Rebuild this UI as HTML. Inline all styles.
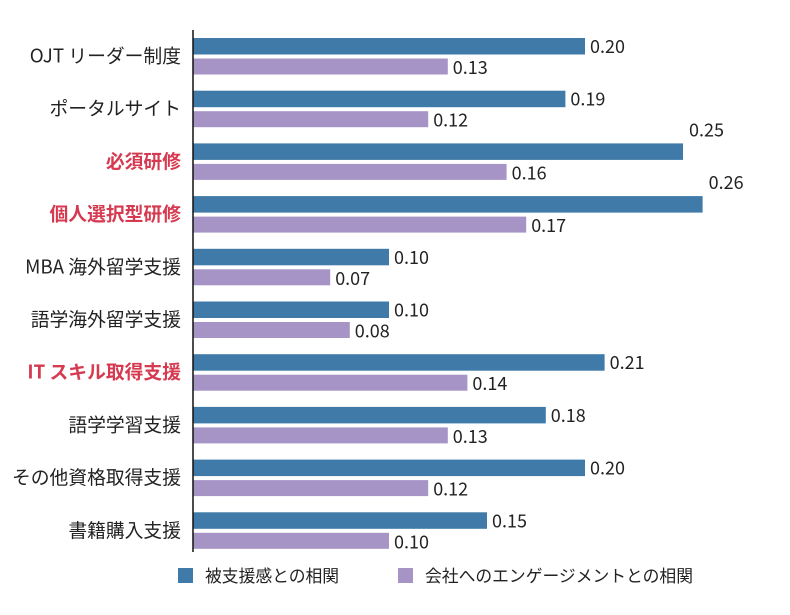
<!DOCTYPE html>
<html><head><meta charset="utf-8"><style>
body{margin:0;width:790px;height:610px;background:#fff;font-family:"Noto Sans CJK JP","Liberation Sans",sans-serif;}
svg text{font-family:"Noto Sans CJK JP","Liberation Sans",sans-serif;}
</style></head><body>
<svg id="chart" width="790" height="610" xmlns="http://www.w3.org/2000/svg"></svg>
<script>
const categories=["OJT リーダー制度","ポータルサイト","必須研修","個人選択型研修","MBA 海外留学支援","語学海外留学支援","IT スキル取得支援","語学学習支援","その他資格取得支援","書籍購入支援"];
const highlighted=[false,false,true,true,false,false,true,false,false,false];
const supportValues=[0.20,0.19,0.25,0.26,0.10,0.10,0.21,0.18,0.20,0.15];
const engagementValues=[0.13,0.12,0.16,0.17,0.07,0.08,0.14,0.13,0.12,0.10];
const seriesNames=["被支援感との相関","会社へのエンゲージメントとの相関"];
const svg=document.getElementById('chart');
const NS="http://www.w3.org/2000/svg";
const x0=193,scale=1960;
const xScale=v=>x0+v*scale;
const rowY=i=>38+i*52.7;
function mk(tag,attrs,txt){const e=document.createElementNS(NS,tag);for(const k in attrs)e.setAttribute(k,attrs[k]);if(txt!==undefined)e.textContent=txt;svg.appendChild(e);return e;}
categories.forEach((c,i)=>{
  const y=rowY(i);
  const t=mk('text',{x:181,y:y+24.5,'text-anchor':'end','font-size':18.8,fill:highlighted[i]?'#d63a50':'#222','font-weight':highlighted[i]?'bold':'normal'},c);
  
  
  const b=mk('rect',{x:x0,y:y,width:xScale(supportValues[i])-x0,height:16.5,fill:'#3f7aa8'});
  
  
  const big=supportValues[i]>=0.25;
  const l1=mk('text',big?{x:xScale(supportValues[i])+6,y:y-7}:{x:xScale(supportValues[i])+5,y:y+15},supportValues[i].toFixed(2));
  l1.setAttribute('font-size',18);l1.setAttribute('fill','#222');
  
  
  const p=mk('rect',{x:x0,y:y+20.5,width:xScale(engagementValues[i])-x0,height:16,fill:'#a794c6'});
  
  
  const l2=mk('text',{x:xScale(engagementValues[i])+5,y:y+36,'font-size':18,fill:'#222'},engagementValues[i].toFixed(2));
  
  
});
const ax=mk('line',{x1:x0,y1:30,x2:x0,y2:552,stroke:'#111','stroke-width':1.5});


const lg=[[178,'#3f7aa8',205],[398,'#a794c6',425]];
lg.forEach((l,i)=>{
  const r=mk('rect',{x:l[0],y:568,width:15,height:15,fill:l[1]});
  
  
  const t=mk('text',{x:l[2],y:582,'font-size':16.8,fill:'#222'},seriesNames[i]);
  
  
});
</script>
</body></html>
